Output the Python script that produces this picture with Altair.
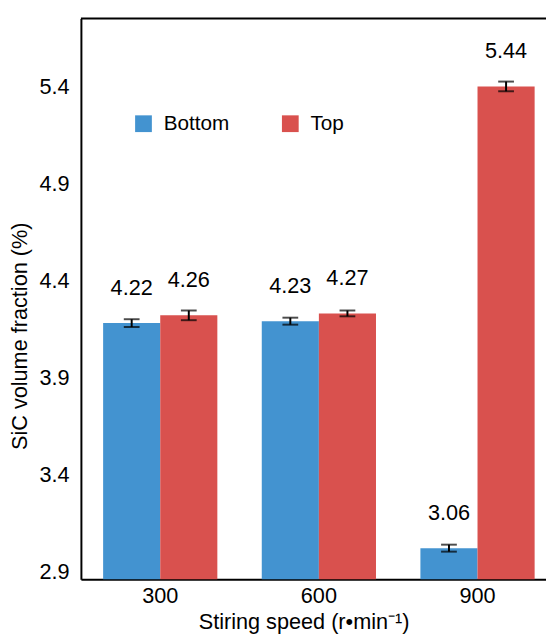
import altair as alt
import pandas as pd

speeds = ["300", "600", "900"]
positions = ["Bottom", "Top"]
bottom_vals = [4.22, 4.23, 3.06]
top_vals = [4.26, 4.27, 5.44]
bottom_err = [0.020, 0.018, 0.018]
top_err = [0.025, 0.015, 0.025]
y_ticks = [2.9, 3.4, 3.9, 4.4, 4.9, 5.4]
colors = ["#4393d0", "#d9514e"]

rows = []
for i, s in enumerate(speeds):
    rows.append(dict(speed=s, pos="Bottom", v=bottom_vals[i], e=bottom_err[i]))
    rows.append(dict(speed=s, pos="Top", v=top_vals[i], e=top_err[i]))
df = pd.DataFrame(rows)
df["lo"] = df["v"] - df["e"]
df["hi"] = df["v"] + df["e"]
df["lab"] = df["v"].map(lambda t: f"{t:.2f}")

FONT = "Liberation Sans"

x = alt.X(
    "speed:N", sort=speeds,
    scale=alt.Scale(range=[0, 483], paddingInner=0.28, paddingOuter=0.14),
    axis=alt.Axis(title="Stiring speed (r\u2022min\u207b\u00b9)", labelAngle=0, ticks=False,
                  labelPadding=7, titleX=226, titleY=50, titleBaseline="alphabetic",
                  titleAlign="center"),
)
xo = alt.XOffset("pos:N", sort=positions, scale=alt.Scale(paddingInner=0, paddingOuter=0))
yscale = alt.Scale(domain=[2.9, 5.79], zero=False, nice=False)
yaxis = alt.Axis(title="SiC volume fraction (%)", values=y_ticks, format=".1f",
                 ticks=False, labelPadding=12, labelOffset=-8,
                 titleX=-62, titleY=322, titleBaseline="middle", titleAlign="center")

base = alt.Chart(df)

bars = base.mark_bar().encode(
    x=x, xOffset=xo,
    y=alt.Y("v:Q", scale=yscale, axis=yaxis),
    y2=alt.datum(2.9),
    color=alt.Color("pos:N", sort=positions, scale=alt.Scale(domain=positions, range=colors),
                    legend=alt.Legend(title=None, orient="none", legendX=53, legendY=96,
                                      direction="horizontal", symbolType="square", symbolSize=289,
                                      symbolStrokeWidth=0, labelOffset=10, columnPadding=51,
                                      labelFontSize=21, labelFont=FONT, labelColor="black",
                                      padding=0)),
)

err = base.mark_rule(color="black", strokeWidth=2).encode(
    x=x, xOffset=xo, y=alt.Y("lo:Q", scale=yscale, axis=yaxis), y2="hi:Q")
cap_lo = base.mark_tick(color="black", thickness=2, size=16).encode(
    x=x, xOffset=xo, y=alt.Y("lo:Q", scale=yscale, axis=yaxis))
cap_hi = base.mark_tick(color="black", thickness=2, size=16).encode(
    x=x, xOffset=xo, y=alt.Y("hi:Q", scale=yscale, axis=yaxis))

labels = base.mark_text(baseline="bottom", dy=-24, fontSize=22, font=FONT, color="black").encode(
    x=x, xOffset=xo, y=alt.Y("v:Q", scale=yscale, axis=yaxis), text="lab:N")

top_line = alt.Chart(pd.DataFrame({"k": [0]})).mark_rule(color="black", strokeWidth=2).encode(
    x=alt.value(0), x2=alt.value(483), y=alt.value(0))

chart = alt.layer(bars, err, cap_lo, cap_hi, labels, top_line).properties(
    width=472, height=569,
    autosize=alt.AutoSizeParams(type="none"),
    padding={"left": 74, "top": 6, "right": 0, "bottom": 55},
).configure_view(stroke=None).configure_axis(
    grid=False, labelFont=FONT, titleFont=FONT, labelFontSize=22, titleFontSize=22,
    labelColor="black", titleColor="black", titleFontWeight="normal",
    domainColor="black", domainWidth=2,
)

chart.save("out.html", embed_options={"renderer": "svg", "actions": False})
